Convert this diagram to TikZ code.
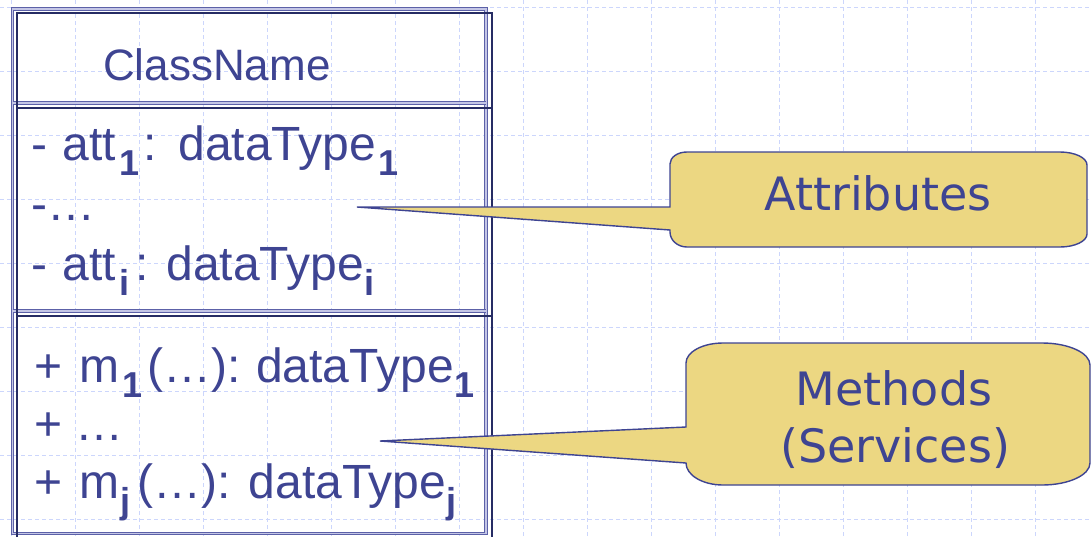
\documentclass[tikz,border=0pt]{standalone}
\usepackage{fontspec}
\setmainfont{Liberation Sans}
\newfontfamily\calloutfont{DejaVu Sans}
\definecolor{ink}{RGB}{62,68,146}
\definecolor{boxdark}{RGB}{38,44,100}
\definecolor{boxlight}{RGB}{92,97,168}
\definecolor{boxmid}{RGB}{196,198,230}
\definecolor{gridc}{RGB}{204,214,252}
\definecolor{callfill}{RGB}{236,215,130}
\newcommand\sbt[1]{\raisebox{-15pt}{\fontsize{36}{36}\selectfont\bfseries #1}}
\begin{document}
\begin{tikzpicture}[x=1pt,y=-1pt,
  gridline/.style={draw=gridc, line width=1pt, dash pattern=on 4pt off 3pt},
  lightframe/.style={draw=boxlight, line width=1.2pt, double=boxmid, double distance=1.4pt},
  darkframe/.style={draw=boxdark, line width=1.8pt},
  memb/.style={anchor=base west, inner sep=0pt, text=ink, font=\fontsize{48}{48}\selectfont},
  titletext/.style={anchor=base west, inner sep=0pt, text=ink, font=\fontsize{44}{44}\selectfont},
  callout/.style={fill=callfill, draw=ink, line width=1.4pt},
  calltext/.style={anchor=base, inner sep=0pt, text=ink, font=\calloutfont\fontsize{46}{46}\selectfont}]
\useasboundingbox (0,0) rectangle (1091,536);
\fill[white] (0,0) rectangle (1091,536);
\clip (0,0) rectangle (1091,536);
% background grid
\foreach \x in {11,75,...,1035} \draw[gridline] (\x,0) -- (\x,536);
\foreach \y in {7,71,...,519} \draw[gridline] (0,\y) -- (1091,\y);
% class box, light frame
\draw[lightframe] (12.5,9) rectangle (486,533.5);
\draw[lightframe] (12.5,103) -- (486,103);
\draw[lightframe] (12.5,311) -- (486,311);
% class box, dark frame
\draw[darkframe] (17,545) -- (17,13) -- (492,13) -- (492,545);
\draw[darkframe] (17,108) -- (492,108);
\draw[darkframe] (17,316) -- (492,316);
% texts
\node[titletext] (cname) at (103,80) {ClassName};
\node[memb] (a1) at (31,160) {-\kern2pt\ att\kern4pt\sbt{1}\kern4pt:\kern8pt\ dataType\kern2pt\sbt{1}};
\node[memb] (a2) at (31,220) {-…};
\node[memb] (a3) at (31,280) {-\kern2pt\ att\kern4pt\sbt{i}\kern6pt:\kern4pt\ dataType\sbt{i}};
\node[memb] (m1) at (34,382) {+\ \kern4pt m\kern3pt\sbt{1}\kern5pt(…):\kern2pt\ dataType\kern1pt\sbt{1}};
\node[memb] (m2) at (34,440) {+ …};
\node[memb] (m3) at (34,498) {+\ \kern4pt m\kern1pt\sbt{j}\kern7pt(…): dataType\sbt{j}};
% callouts
\coordinate (attip) at (357,207);
\path[callout] (attip) -- (670,207) -- (670,164) .. controls (670,157.4) and (677.4,152) .. (687,152) -- (1060,152) .. controls (1074.9,152) and (1087,157.8) .. (1087,165) -- (1087,234) .. controls (1087,241.2) and (1074.9,247) .. (1060,247) -- (687,247) .. controls (677.6,247) and (670,240.3) .. (670,232) -- (670,230) -- cycle;
\coordinate (mtip) at (380,441);
\path[callout] (mtip) -- (686,427) -- (686,363) .. controls (686,352) and (702.6,343) .. (723,343) -- (1042,343) .. controls (1068.5,343) and (1090,352.9) .. (1090,365) -- (1090,463) .. controls (1090,475.1) and (1068.5,485) .. (1042,485) -- (723,485) .. controls (702.6,485) and (686,475.1) .. (686,463) -- cycle;
\node[calltext] (attr) at (878,210) {Attributes};
\node[calltext] (meth) at (894,405) {Methods};
\node[calltext] (serv) at (895,462) {(Services)};
\end{tikzpicture}
\end{document}
